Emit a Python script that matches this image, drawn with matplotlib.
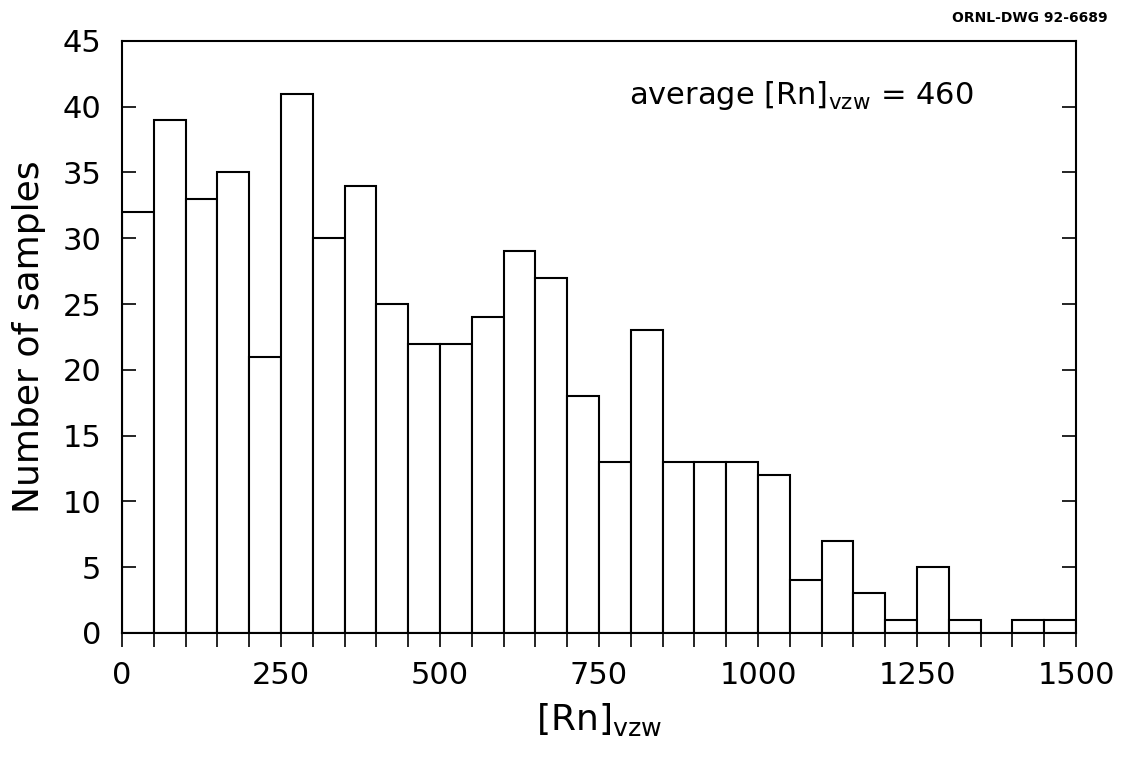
# Radon histogram (ORNL-DWG 92-6689)
import numpy as np
import matplotlib.pyplot as plt
from matplotlib.ticker import MultipleLocator

# bin edges every 50 from 0 to 1500, counts per bin
bin_left = np.arange(0, 1500, 50)
counts = [32, 39, 33, 35, 21, 41, 30, 34, 25, 22,
          22, 24, 29, 27, 18, 13, 23, 13, 13, 13,
          12, 4, 7, 3, 1, 5, 1, 0, 1, 1]
x_ticks = [0, 250, 500, 750, 1000, 1250, 1500]
y_ticks = [0, 5, 10, 15, 20, 25, 30, 35, 40, 45]

plt.rcParams['font.family'] = ['DejaVu Sans']
plt.rcParams['mathtext.fontset'] = 'dejavusans'

fig = plt.figure(figsize=(11.25, 7.58), dpi=100)
ax = fig.add_axes([0.1084, 0.165, 0.848, 0.781])

ax.bar(bin_left, counts, width=50, align='edge', facecolor='white',
       edgecolor='black', linewidth=1.5)

ax.set_xlim(0, 1500)
ax.set_ylim(0, 45)
ax.set_xticks(x_ticks)
ax.xaxis.set_minor_locator(MultipleLocator(50))
ax.set_yticks(y_ticks)

ax.tick_params(axis='x', which='both', direction='out', length=10, width=1.2,
               labelsize=22, pad=10)
ax.tick_params(axis='y', which='both', direction='in', length=10, width=1.2,
               right=True, labelsize=22, pad=15)
for s in ax.spines.values():
    s.set_linewidth(1.5)

ax.set_ylabel('Number of samples', fontsize=26, labelpad=12)
ax.set_xlabel(r'$[\mathrm{Rn}]_{\mathrm{vzw}}$', fontsize=26, labelpad=8)

ax.text(0.532, 0.935, r'average $[\mathrm{Rn}]_{\mathrm{vzw}}$ = 460',
        transform=ax.transAxes, fontsize=22, va='top', ha='left')
fig.text(0.985, 0.985, 'ORNL-DWG 92-6689', fontsize=10, fontweight='bold',
         ha='right', va='top')

fig.savefig('out.png', dpi=100)
